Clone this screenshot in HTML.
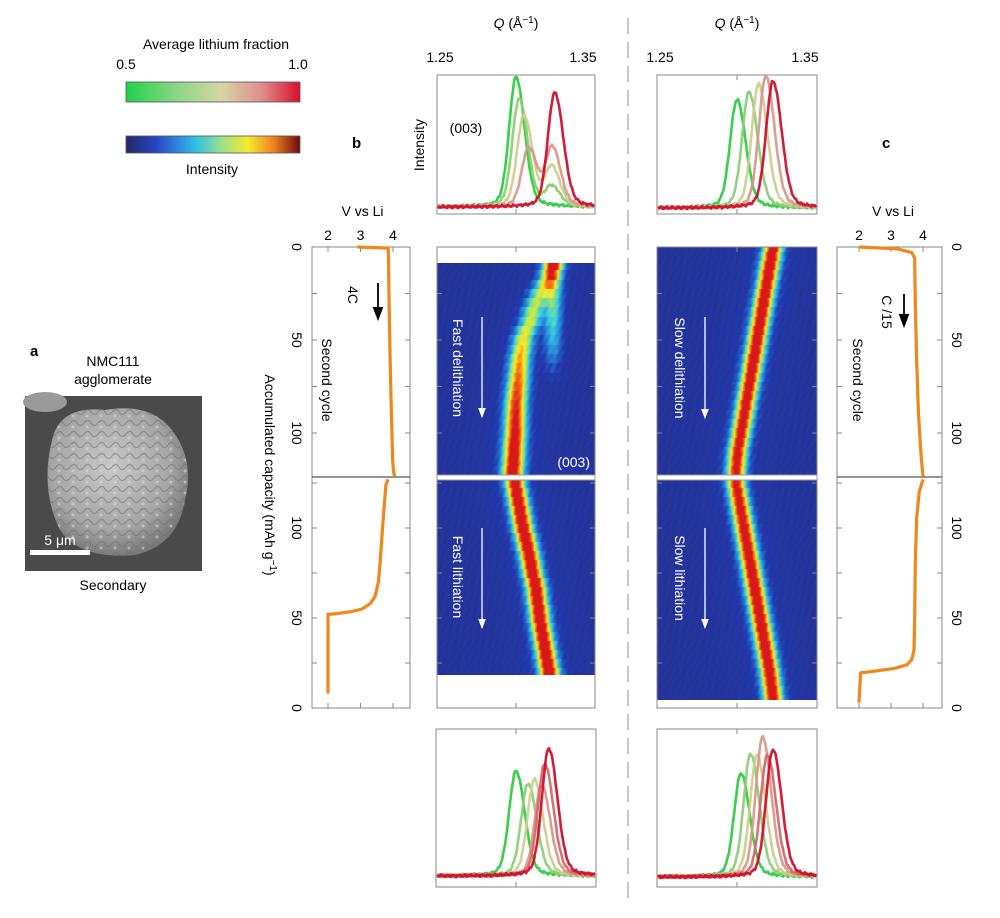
<!DOCTYPE html>
<html><head><meta charset="utf-8">
<style>
html,body{margin:0;padding:0;background:#fff;}
#wrap{position:relative;width:1000px;height:918px;overflow:hidden;font-family:"Liberation Sans",sans-serif;}
canvas{position:absolute;}
svg{position:absolute;left:0;top:0;}
</style></head>
<body>
<div id="wrap">
<canvas id="hbT" width="158" height="214" style="left:437px;top:263px"></canvas>
<canvas id="hbB" width="158" height="198" style="left:437px;top:477px"></canvas>
<canvas id="hcT" width="160" height="230" style="left:657px;top:247px"></canvas>
<canvas id="hcB" width="160" height="223" style="left:657px;top:477px"></canvas>
<svg id="svg" width="1000" height="918" xmlns="http://www.w3.org/2000/svg">
<defs>
<linearGradient id="gLi" x1="0" x2="1" y1="0" y2="0">
<stop offset="0" stop-color="#1fd14a"/><stop offset="0.3" stop-color="#8fd68a"/><stop offset="0.55" stop-color="#d6d6a4"/><stop offset="0.78" stop-color="#dc8f8c"/><stop offset="1" stop-color="#d8102e"/></linearGradient>
<linearGradient id="gJet" x1="0" x2="1" y1="0" y2="0">
<stop offset="0" stop-color="#1e2a6a"/><stop offset="0.18" stop-color="#2a46c8"/><stop offset="0.4" stop-color="#2ec0e8"/><stop offset="0.55" stop-color="#9ee08a"/><stop offset="0.7" stop-color="#f4ec2a"/><stop offset="0.85" stop-color="#f08020"/><stop offset="1" stop-color="#6a0c0c"/></linearGradient>
<radialGradient id="gBlob" cx="0.45" cy="0.4" r="0.6"><stop offset="0" stop-color="#c8c8c8"/><stop offset="0.7" stop-color="#a6a6a6"/><stop offset="1" stop-color="#7a7a7a"/></radialGradient>
<pattern id="tex" width="14" height="11" patternUnits="userSpaceOnUse"><path d="M0 5 Q4 0 7 5 Q10 10 14 5" stroke="#6e6e6e" stroke-width="1.2" fill="none" opacity="0.55"/><circle cx="3" cy="9" r="1.5" fill="#e0e0e0" opacity="0.5"/></pattern>
<marker id="ahW" markerWidth="8" markerHeight="8" refX="4" refY="4" orient="auto"><path d="M0 1 L8 4 L0 7 Z" fill="#fff"/></marker>
<marker id="ahK" markerWidth="8" markerHeight="8" refX="4" refY="4" orient="auto"><path d="M0 1 L8 4 L0 7 Z" fill="#000"/></marker>
</defs>
<g>
<text x="216" y="49" font-size="14" text-anchor="middle">Average lithium fraction</text>
<text x="126" y="69" font-size="14" text-anchor="middle">0.5</text>
<text x="298" y="69" font-size="14" text-anchor="middle">1.0</text>
<rect x="126" y="82" width="174" height="20" fill="url(#gLi)" stroke="#555" stroke-width="0.8"/>
</g>
<g>
<rect x="126" y="136" width="174" height="17" fill="url(#gJet)" stroke="#555" stroke-width="0.8"/>
<text x="212" y="174" font-size="14" text-anchor="middle">Intensity</text>
</g>
<g>
<text x="30" y="356" font-size="15" font-weight="bold">a</text>
<text x="113" y="366" font-size="14" text-anchor="middle">NMC111</text>
<text x="113" y="384" font-size="14" text-anchor="middle">agglomerate</text>
<rect x="25" y="396" width="177" height="175" fill="#4a4a4a"/>
<ellipse cx="45" cy="402" rx="22" ry="10" fill="#9a9a9a"/>
<path d="M52 440 Q60 405 105 410 Q150 402 172 430 Q195 460 185 500 Q178 545 135 555 Q80 560 60 530 Q40 490 52 440 Z" fill="url(#gBlob)"/>
<path d="M52 440 Q60 405 105 410 Q150 402 172 430 Q195 460 185 500 Q178 545 135 555 Q80 560 60 530 Q40 490 52 440 Z" fill="url(#tex)"/>
<rect x="30" y="550" width="60" height="5" fill="#fff"/>
<text x="60" y="545" font-size="14" fill="#fff" text-anchor="middle">5 μm</text>
<text x="113" y="590" font-size="14" text-anchor="middle">Secondary</text>
</g>
<text x="352" y="148" font-size="15" font-weight="bold">b</text>
<text x="882" y="148" font-size="15" font-weight="bold">c</text>
<line x1="628" y1="18" x2="628" y2="905" stroke="#c8c8c8" stroke-width="2" stroke-dasharray="16,8"/>
<text x="265" y="475" font-size="14" text-anchor="middle" transform="rotate(90 265 475)">Accumulated capacity (mAh g<tspan font-size="10" dy="-5">−1</tspan><tspan dy="5">)</tspan></text>
<g id="dyn"></g>
</svg>
</div>
<script>
// ---------- data ----------
const qTicks = [1.25, 1.30, 1.35];
const qTickLabels = ["1.25", "", "1.35"];
const vTicks = [2, 3, 4];
const capTicks = [0, 50, 100];
const specColors = ["#2ecc40", "#8ccf78", "#cfcf90", "#d99a8a", "#d66a6a", "#d0102a"];

// top b spectra (delithiation, fast)
const bTopQ1 = [1.3000, 1.3020, 1.3050, 1.3080, 1.3245];
const bTopA1 = [1.00, 0.83, 0.70, 0.45, 0.88];
const bTopQ2 = [1.3230, 1.3225, 1.3225, 1.3230, 1.3245];
const bTopA2 = [0.00, 0.15, 0.30, 0.45, 0.00];
const bTopCol = [0, 1, 2, 3, 5];
// bottom b spectra
const bBotQ = [1.3000, 1.3075, 1.3115, 1.3160, 1.3180, 1.3205];
const bBotA = [0.75, 0.66, 0.69, 0.65, 0.80, 0.91];
// top c spectra
const cTopQ = [1.3000, 1.3075, 1.3135, 1.3180, 1.3225];
const cTopA = [0.82, 0.88, 0.94, 1.00, 0.96];
const cTopCol = [0, 1, 2, 3, 5];
// bottom c spectra
const cBotQ = [1.3025, 1.3085, 1.3125, 1.3160, 1.3190, 1.3225];
const cBotA = [0.74, 0.88, 0.87, 1.00, 0.87, 0.91];

// heatmap b delithiation
const bDelCap = [10,15,20,25,30,35,40,45,50,55,60,65,70,75,80,85,90,95,100,105,110,115,120];
const bDelQ1 = [1.3235,1.321,1.318,1.315,1.3125,1.3105,1.309,1.3065,1.3045,1.3035,1.3025,1.302,1.3015,1.301,1.3005,1.300,1.2998,1.2996,1.2995,1.299,1.2988,1.2985,1.298];
const bDelI1 = [0.50,0.46,0.45,0.45,0.46,0.48,0.50,0.53,0.56,0.60,0.64,0.68,0.72,0.76,0.79,0.82,0.85,0.87,0.90,0.92,0.93,0.95,0.96];
const bDelI2 = [0.55,0.50,0.48,0.45,0.42,0.40,0.37,0.33,0.30,0.24,0.18,0.10,0.05,0,0,0,0,0,0,0,0,0,0];
const bDelQ2 = 1.3235;
// heatmap b lithiation
const bLitCap = [125,120,115,110,105,100,95,90,85,80,75,70,65,60,55,50,45,40,35,30,25,20];
const bLitQ = [1.2995,1.3005,1.3015,1.3025,1.3035,1.3045,1.306,1.3072,1.3085,1.3095,1.3105,1.312,1.313,1.3135,1.3145,1.315,1.316,1.317,1.318,1.319,1.320,1.321];
const bLitI = [0.95,0.96,0.97,0.97,0.96,0.97,0.98,0.97,0.96,0.97,0.96,0.97,0.97,0.96,0.97,0.97,0.96,0.97,0.98,0.98,0.99,1.0];
// heatmap c delithiation
const cDelCap = [0,5,10,15,20,25,30,35,40,45,50,55,60,65,70,75,80,85,90,95,100,105,110,115,120];
const cDelQ = [1.3225,1.3215,1.3205,1.3195,1.3185,1.3175,1.3165,1.3155,1.3145,1.3135,1.3125,1.3115,1.3105,1.3095,1.3085,1.3075,1.3065,1.3055,1.3045,1.3035,1.3025,1.3015,1.3005,1.300,1.2995];
const cDelI = [0.93,0.95,0.97,0.96,0.94,0.95,0.96,0.95,0.94,0.96,0.95,0.94,0.97,0.94,0.93,0.92,0.91,0.91,0.90,0.90,0.89,0.88,0.88,0.87,0.87];
// heatmap c lithiation
const cLitCap = [125,120,115,110,105,100,95,90,85,80,75,70,65,60,55,50,45,40,35,30,25,20,15,10,5];
const cLitQ = [1.2995,1.3005,1.3015,1.3025,1.3035,1.3045,1.3055,1.3065,1.3075,1.3085,1.3095,1.3105,1.3115,1.3125,1.3135,1.3145,1.3155,1.3165,1.3175,1.3185,1.3195,1.3205,1.3212,1.322,1.3225];
const cLitI = [0.87,0.88,0.89,0.90,0.91,0.92,0.93,0.93,0.94,0.94,0.95,0.96,0.97,0.96,0.95,0.96,0.97,0.95,0.96,0.95,0.94,0.94,0.93,0.93,0.93];

// voltage curves
const bDelVcap = [0, 0.6, 3, 30, 60, 90, 115, 121, 123.5];
const bDelV = [2.9, 3.85, 3.86, 3.88, 3.91, 3.95, 3.99, 4.02, 4.05];
const bLitVcap = [127, 124, 110, 95, 80, 70, 62, 58, 55, 53.5, 52.5, 52, 8];
const bLitV = [3.85, 3.78, 3.72, 3.66, 3.60, 3.55, 3.45, 3.30, 3.05, 2.70, 2.30, 2.00, 2.00];
const cDelVcap = [0, 1, 3, 6, 30, 60, 90, 110, 123.5];
const cDelV = [2.0, 3.2, 3.65, 3.74, 3.76, 3.80, 3.86, 3.93, 4.0];
const cLitVcap = [127, 120, 105, 80, 50, 32, 27, 24, 22, 20.5, 19.5, 3];
const cLitV = [4.0, 3.88, 3.80, 3.76, 3.74, 3.72, 3.65, 3.50, 3.10, 2.50, 2.05, 2.00];

// ---------- helpers ----------
const NS = "http://www.w3.org/2000/svg";
const dyn = document.getElementById('dyn');
function mk(tag, attrs, parent) {
  const e = document.createElementNS(NS, tag);
  for (const k in attrs) e.setAttribute(k, attrs[k]);
  (parent || dyn).appendChild(e);
  return e;
}
function qx(x0, x1) { return q => x0 + (q - 1.25) / 0.10 * (x1 - x0); }
const capTop = c => 247 + c * 1.86;
const capBot = c => 708 - c * 1.8;
function peak(q, q0, a, s) {
  const d = (q - q0) / s;
  const dr = d > 0 ? d * 0.8 : d;
  return a * (Math.exp(-dr * dr / 2) * 0.88 + 0.12 / (1 + dr * dr / 4));
}

// ---------- frames ----------
function frame(x0, y0, x1, y1, name) {
  const r = mk('rect', {x: x0, y: y0, width: x1 - x0, height: y1 - y0, fill: 'none', stroke: '#888', 'stroke-width': 1});
  
  
}
function qTicksOn(x0, x1, y0, y1) {
  const X = qx(x0, x1);
  qTicks.forEach(q => {
    mk('line', {x1: X(q), x2: X(q), y1: y0, y2: y0 + 5, stroke: '#888'});
    mk('line', {x1: X(q), x2: X(q), y1: y1, y2: y1 - 5, stroke: '#888'});
  });
}
function capTicksOn(xs) {
  [0,25,50,75,100,125].forEach(c => {
    const ys = [];
    if (capTop(c) < 477) ys.push(capTop(c));
    if (capBot(c) > 477) ys.push(capBot(c));
    ys.forEach(y => xs.forEach(([x, dir]) => mk('line', {x1: x, x2: x + dir * 5, y1: y, y2: y, stroke: '#888'})));
  });
}

// Spectra panels
function spectra(x0, x1, y0, y1, base, scale, Q1, A1, Q2, A2, cols, name) {
  frame(x0, y0, x1, y1, name);
  qTicksOn(x0, x1, y0, y1);
  const g = mk('g', {});
  
  
  Q1.forEach((q0, i) => {
    let d = '';
    for (let px = x0 + 1; px <= x1 - 1; px += 1) {
      const q = 1.25 + (px - x0) / (x1 - x0) * 0.10;
      let v = peak(q, q0, A1[i], 0.0042);
      if (Q2 && A2[i] > 0) v += peak(q, Q2[i], A2[i], 0.004);
      const jit = 1.5 * Math.sin(px * 1.7 + i * 3) * Math.cos(px * 0.63 + i);
      const y = base - v * scale + jit;
      d += (d ? 'L' : 'M') + px + ' ' + y.toFixed(1);
    }
    const p = mk('path', {d: d, fill: 'none', stroke: specColors[cols ? cols[i] : i], 'stroke-width': 2.6, 'stroke-linejoin': 'round', opacity: 0.95}, g);
    
    
  });
}
spectra(437, 595, 75, 214, 207, 130, bTopQ1, bTopA1, bTopQ2, bTopA2, bTopCol, 'spectra-b-top');
spectra(436, 596, 729, 887, 876, 140, bBotQ, bBotA, null, null, null, 'spectra-b-bottom');
spectra(657, 817, 75, 214, 208, 132, cTopQ, cTopA, null, null, cTopCol, 'spectra-c-top');
spectra(657, 817, 729, 887, 877, 140, cBotQ, cBotA, null, null, null, 'spectra-c-bottom');

// Q axis labels
[[437, 595], [657, 817]].forEach(([x0, x1], k) => {
  const X = qx(x0, x1);
  const t = mk('text', {x: (x0 + x1) / 2, y: 28, 'font-size': 14, 'text-anchor': 'middle'});
  t.innerHTML = '<tspan font-style="italic">Q</tspan> (Å<tspan font-size="10" dy="-5">−1</tspan><tspan dy="5">)</tspan>';
  
  
  qTicks.forEach((q, i) => {
    if (!qTickLabels[i]) return;
    const xx = i === 0 ? X(q) + 3 : X(q) - 12;
    const l = mk('text', {x: xx, y: 62, 'font-size': 14, 'text-anchor': 'middle'});
    l.textContent = qTickLabels[i];
    
    
  });
});
{
  const t = mk('text', {x: 424, y: 145, 'font-size': 14, 'text-anchor': 'middle', transform: 'rotate(-90 424 145)'});
  t.textContent = 'Intensity';
  
  
  const t2 = mk('text', {x: 466, y: 133, 'font-size': 14, 'text-anchor': 'middle'});
  t2.textContent = '(003)';
  
  
}

// heatmap frames
frame(437, 247, 595, 708, 'heatmap-b-frame');
frame(657, 247, 817, 708, 'heatmap-c-frame');
qTicksOn(437, 595, 247, 708);
qTicksOn(657, 817, 247, 708);
capTicksOn([[437, 1], [595, -1], [657, 1], [817, -1]]);

// Heatmaps on canvas
function jet(v) {
  const st = [[0, 36, 48, 140], [0.12, 34, 58, 175], [0.3, 40, 150, 225], [0.42, 60, 210, 220], [0.55, 170, 230, 90], [0.68, 250, 235, 40], [0.82, 248, 130, 25], [1, 215, 25, 25]];
  v = Math.max(0, Math.min(1, v));
  for (let i = 1; i < st.length; i++) {
    if (v <= st[i][0]) {
      const a = st[i - 1], b = st[i], t = (v - a[0]) / (b[0] - a[0]);
      return [a[1] + t * (b[1] - a[1]), a[2] + t * (b[2] - a[2]), a[3] + t * (b[3] - a[3])];
    }
  }
  return [215, 25, 25];
}
function heat(id, top, capFn, caps, Qs, Is, Q2, I2, sig) {
  const cv = document.getElementById(id), ctx = cv.getContext('2d');
  const W = cv.width, H = cv.height, img = ctx.createImageData(W, H);
  for (let y = 0; y < H; y++) {
    const cap = capFn(top + y + 0.5);
    let bi = 0, bd = 1e9;
    caps.forEach((c, i) => { const d = Math.abs(c - cap); if (d < bd) { bd = d; bi = i; } });
    for (let x = 0; x < W; x++) {
      const q = 1.25 + (x + 0.5) / W * 0.10;
      let v = 0.05 + 0.03 * Math.sin(x * 0.9 + y * 0.37) * Math.cos(y * 0.21);
      const d = (q - Qs[bi]) / sig;
      v += Is[bi] * Math.exp(-d * d / 2) + 0.14 * Is[bi] / (1 + d * d / 4);
      if (I2 && I2[bi] > 0) { const d2 = (q - Q2) / 0.004; v += I2[bi] * Math.exp(-d2 * d2 / 2); }
      const c = jet(v), k = (y * W + x) * 4;
      img.data[k] = c[0]; img.data[k + 1] = c[1]; img.data[k + 2] = c[2]; img.data[k + 3] = 255;
    }
  }
  ctx.putImageData(img, 0, 0);
}
const capInvTop = y => (y - 247) / 1.86;
const capInvBot = y => (708 - y) / 1.8;
heat('hbT', 263, capInvTop, bDelCap, bDelQ1, bDelI1, bDelQ2, bDelI2, 0.0045);
heat('hbB', 477, capInvBot, bLitCap, bLitQ, bLitI, null, null, 0.0042);
heat('hcT', 247, capInvTop, cDelCap, cDelQ, cDelI, null, null, 0.0040);
heat('hcB', 477, capInvBot, cLitCap, cLitQ, cLitI, null, null, 0.0040);

// separators
[[437, 595], [657, 817]].forEach(([a, b]) => {
  mk('rect', {x: a, y: 475, width: b - a, height: 5, fill: '#fff', stroke: '#999', 'stroke-width': 1});
});

// Voltage plots
function vplot(x0, x1, v2x, v4x, curves, name) {
  frame(x0, 247, x1, 708, name);
  mk('line', {x1: x0, x2: x1, y1: 477, y2: 477, stroke: '#555', 'stroke-width': 1.2});
  const V = v => v2x + (v - 2) / 2 * (v4x - v2x);
  vTicks.forEach(v => {
    mk('line', {x1: V(v), x2: V(v), y1: 247, y2: 252, stroke: '#888'});
    mk('line', {x1: V(v), x2: V(v), y1: 708, y2: 703, stroke: '#888'});
    const t = mk('text', {x: V(v), y: 240, 'font-size': 14, 'text-anchor': 'middle'});
    t.textContent = String(v);
    
    
  });
  const t = mk('text', {x: (V(2) + V(4)) / 2 + 2, y: 216, 'font-size': 14, 'text-anchor': 'middle'});
  t.textContent = 'V vs Li';
  
  
  capTicksOn([[x0, 1], [x1, -1]]);
  curves.forEach(([caps, vs, fn]) => {
    const d = caps.map((c, i) => (i ? 'L' : 'M') + V(vs[i]).toFixed(1) + ' ' + fn(c).toFixed(1)).join('');
    const p = mk('path', {d: d, fill: 'none', stroke: '#f0861c', 'stroke-width': 3.2, 'stroke-linejoin': 'round'});
    
    
  });
}
vplot(312, 410, 328, 393, [[bDelVcap, bDelV, capTop], [bLitVcap, bLitV, capBot]], 'voltage-plot-b');
vplot(837, 942, 859, 923, [[cDelVcap, cDelV, capTop], [cLitVcap, cLitV, capBot]], 'voltage-plot-c');

// capacity tick labels
function capLabels(x) {
  capTicks.forEach(c => {
    [capTop(c), capBot(c)].forEach(y => {
      const t = mk('text', {x: x, y: y, 'font-size': 14, 'text-anchor': 'middle', transform: `rotate(90 ${x} ${y})`});
      t.textContent = String(c);
      
      
    });
  });
}
capLabels(292);
capLabels(952);

// rotated annotations
function rtext(x, y, s, fill, name) {
  const t = mk('text', {x: x, y: y, 'font-size': 14, 'text-anchor': 'middle', fill: fill, transform: `rotate(90 ${x} ${y})`});
  t.textContent = s;
  
  
}
function arrow(x, y1, y2, col) {
  const a = mk('line', {x1: x, x2: x, y1: y1, y2: y2 - 4, stroke: col, 'stroke-width': col === '#fff' ? 1.3 : 1.8, 'marker-end': col === '#fff' ? 'url(#ahW)' : 'url(#ahK)'});
  
  
}
rtext(453, 368, 'Fast  delithiation', '#fff', 'fast-delithiation-label'); arrow(482, 317, 417, '#fff');
rtext(453, 577, 'Fast lithiation', '#fff', 'fast-lithiation-label'); arrow(482, 528, 628, '#fff');
rtext(675, 368, 'Slow delithiation', '#fff', 'slow-delithiation-label'); arrow(705, 317, 418, '#fff');
rtext(675, 578, 'Slow lithiation', '#fff', 'slow-lithiation-label'); arrow(705, 528, 628, '#fff');
{ const t = mk('text', {x: 590, y: 467, 'font-size': 14, fill: '#fff', 'text-anchor': 'end'}); t.textContent = '(003)';
    }
rtext(322, 380, 'Second cycle', '#000', 'second-cycle-label');
rtext(853, 380, 'Second cycle', '#000', 'second-cycle-label');
rtext(348, 295, '4C', '#000', 'rate-4c-label'); arrow(378, 283, 318, '#000');
rtext(882, 312, 'C /15', '#000', 'rate-c15-label'); arrow(904, 294, 325, '#000');
</script>
</body></html>
